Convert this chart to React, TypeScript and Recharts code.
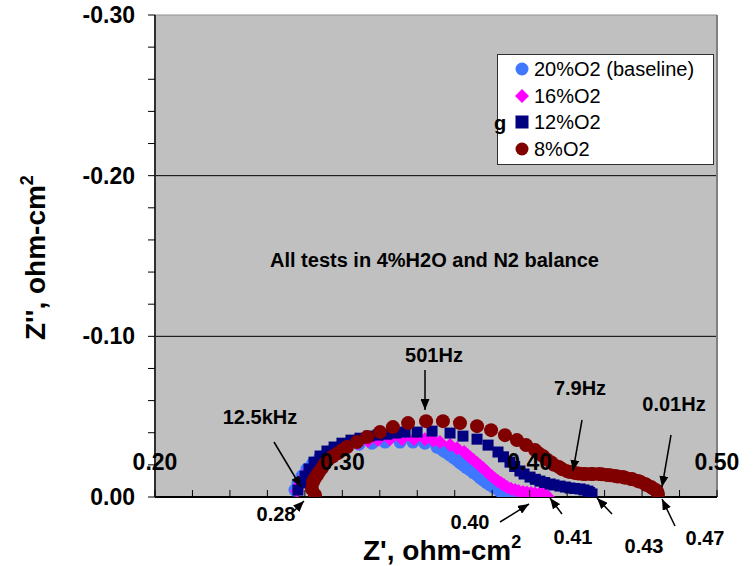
import React from 'react';
import { ScatterChart, Scatter, XAxis, YAxis, CartesianGrid, ReferenceLine } from 'recharts';

// Z' (ohm-cm2), Z'' (ohm-cm2, negative = capacitive)
const o2_20: number[][] = [
  [0.2747, -0.0043], [0.2763, -0.0087], [0.2785, -0.013], [0.2811, -0.0174], [0.2843, -0.0211],
  [0.2881, -0.0248], [0.2923, -0.028], [0.2972, -0.0304], [0.3025, -0.0317], [0.3089, -0.0329],
  [0.3158, -0.0335], [0.3228, -0.0342], [0.3308, -0.0342], [0.3377, -0.0342], [0.3441, -0.0335],
  [0.3505, -0.0311], [0.3527, -0.0299], [0.3543, -0.0286], [0.3559, -0.0274], [0.3575, -0.0261],
  [0.3594, -0.0245], [0.3612, -0.023], [0.3628, -0.0214], [0.3644, -0.0199], [0.3663, -0.0183],
  [0.3682, -0.0168], [0.37, -0.0152], [0.3719, -0.0137], [0.3735, -0.0121], [0.3751, -0.0106],
  [0.377, -0.009], [0.3788, -0.0075], [0.3807, -0.0062], [0.3826, -0.005], [0.3842, -0.0037],
  [0.3858, -0.0025], [0.388, -0.0015], [0.39, -0.0006], [0.3925, -0.0003], [0.3948, 0],
  [0.3967, 0], [0.3986, 0],
];

const o2_16: number[][] = [
  [0.2758, -0.0037], [0.2774, -0.0081], [0.2795, -0.0124], [0.2822, -0.0168], [0.2854, -0.0205],
  [0.2891, -0.0242], [0.2934, -0.0273], [0.2982, -0.0298], [0.303, -0.0317], [0.3084, -0.0335],
  [0.3137, -0.0348], [0.319, -0.0354], [0.3254, -0.036], [0.3319, -0.036], [0.3383, -0.036],
  [0.3441, -0.036], [0.3485, -0.0352], [0.3521, -0.0342], [0.3575, -0.0323], [0.3612, -0.0304],
  [0.365, -0.028], [0.3665, -0.0265], [0.3682, -0.0248], [0.37, -0.023], [0.3719, -0.0211],
  [0.3735, -0.0195], [0.3751, -0.018], [0.3767, -0.0162], [0.3783, -0.0143], [0.38, -0.0127],
  [0.3815, -0.0112], [0.383, -0.0099], [0.3847, -0.0087], [0.3863, -0.0074], [0.3879, -0.0062],
  [0.39, -0.0052], [0.3922, -0.0043], [0.394, -0.0037], [0.3964, -0.0031], [0.3985, -0.0028],
  [0.4007, -0.0025], [0.4028, -0.0022], [0.405, -0.0019], [0.4066, -0.0019], [0.4082, -0.0019],
  [0.4098, 0],
];

const o2_12: number[][] = [
  [0.2763, -0.0043], [0.2785, -0.0087], [0.2801, -0.013], [0.2822, -0.0174], [0.2849, -0.0217],
  [0.2881, -0.0255], [0.2918, -0.0286], [0.2956, -0.0311], [0.2998, -0.0335], [0.3046, -0.0354],
  [0.3094, -0.0366], [0.3142, -0.0379], [0.319, -0.0385], [0.3238, -0.0391], [0.3287, -0.0398],
  [0.3335, -0.0404], [0.3399, -0.0404], [0.3479, -0.041], [0.3575, -0.0398], [0.3644, -0.0379],
  [0.3719, -0.036], [0.3778, -0.0323], [0.3831, -0.028], [0.386, -0.025], [0.3895, -0.0217],
  [0.392, -0.019], [0.3948, -0.0162], [0.397, -0.0143], [0.4002, -0.0124], [0.403, -0.011],
  [0.4055, -0.0099], [0.408, -0.009], [0.4109, -0.0081], [0.413, -0.0075], [0.4162, -0.0068],
  [0.419, -0.0062], [0.4215, -0.0056], [0.424, -0.0053], [0.4269, -0.005], [0.429, -0.0044],
  [0.4311, -0.0037], [0.432, -0.0028], [0.4333, -0.0019],
];

const o2_8: number[][] = [
  [0.2854, -0.0012], [0.2838, -0.005], [0.2843, -0.0093], [0.2853, -0.0115], [0.2865, -0.0137],
  [0.2877, -0.0158], [0.2891, -0.018], [0.2905, -0.0205], [0.2923, -0.023], [0.2948, -0.0252],
  [0.2977, -0.0273], [0.3, -0.0292], [0.3025, -0.0311], [0.3078, -0.0342], [0.3132, -0.0373],
  [0.3201, -0.0404], [0.327, -0.0435], [0.3351, -0.046], [0.3447, -0.0472], [0.3537, -0.0472],
  [0.3628, -0.046], [0.3719, -0.0441], [0.3794, -0.0416], [0.3868, -0.0385], [0.3932, -0.0354],
  [0.3981, -0.0323], [0.4029, -0.0292], [0.405, -0.027], [0.4071, -0.0255], [0.409, -0.0235],
  [0.4114, -0.0217], [0.413, -0.02], [0.4157, -0.0186], [0.4175, -0.0172], [0.4199, -0.0161],
  [0.4215, -0.0155], [0.4242, -0.0149], [0.426, -0.0146], [0.4285, -0.0143], [0.43, -0.0143],
  [0.4327, -0.0143], [0.434, -0.0143], [0.437, -0.0143], [0.4385, -0.0142], [0.4413, -0.0137],
  [0.443, -0.0135], [0.4456, -0.013], [0.447, -0.0128], [0.4498, -0.0124], [0.451, -0.012],
  [0.4541, -0.0112], [0.455, -0.011], [0.4578, -0.0099], [0.459, -0.0095], [0.4616, -0.0081],
  [0.4625, -0.0075], [0.4648, -0.0062], [0.4655, -0.0055], [0.4674, -0.0043], [0.468, -0.0035],
  [0.4685, -0.0019],
];

const seriesNames = ['20%O2 (baseline)', '16%O2', '12%O2', '8%O2'];
const seriesColors = ['#3F78FF', '#FF00FF', '#000080', '#800000'];

const xTicks = [0.2, 0.22, 0.24, 0.26, 0.28, 0.3, 0.32, 0.34, 0.36, 0.38, 0.4, 0.42, 0.44, 0.46, 0.48, 0.5];
const yTicks = [-0.3, -0.28, -0.26, -0.24, -0.22, -0.2, -0.18, -0.16, -0.14, -0.12, -0.1, -0.08, -0.06, -0.04, -0.02, 0];

const FONT = '"Liberation Sans", Arial, sans-serif';

const toPts = (arr: number[][]) => arr.map(([x, y]) => ({ x, y }));
const isMajor = (v: number) => Math.abs(v * 10 - Math.round(v * 10)) < 1e-6;

const circle = (fill: string, r: number) => (p: any) => <circle cx={p.cx} cy={p.cy} r={r} fill={fill} />;
const diamond = (fill: string, h: number) => (p: any) => (
  <path d={`M${p.cx},${p.cy - h}L${p.cx + h},${p.cy}L${p.cx},${p.cy + h}L${p.cx - h},${p.cy}Z`} fill={fill} />
);
const square = (fill: string, s: number) => (p: any) => (
  <rect x={p.cx - s / 2} y={p.cy - s / 2} width={s} height={s} fill={fill} />
);

const XTick = (props: any) => {
  const { x, y, payload } = props;
  const v = payload.value;
  return (
    <g>
      <line x1={x} y1={y - 7} x2={x} y2={y} stroke="#000" strokeWidth={1} />
      {isMajor(v) && (
        <text x={x} y={y - 27} textAnchor="middle" fontFamily={FONT} fontWeight="bold" fontSize={23} fill="#000">
          {v.toFixed(2)}
        </text>
      )}
    </g>
  );
};

const YTick = (props: any) => {
  const { x, y, payload } = props;
  const v = payload.value;
  return (
    <g>
      <line x1={x - 7} y1={y} x2={x} y2={y} stroke="#000" strokeWidth={1} />
      {isMajor(v) && (
        <text x={x - 20} y={y + 8} textAnchor="end" fontFamily={FONT} fontWeight="bold" fontSize={23} fill="#000">
          {Math.abs(v) < 1e-9 ? '0.00' : v.toFixed(2)}
        </text>
      )}
    </g>
  );
};

// annotation labels and arrows
const notes = [
  { t: '12.5kHz', x: 260, y: 424, a: [274, 442, 301, 487] },
  { t: '0.28', x: 276, y: 521, a: [291, 514, 304, 501] },
  { t: '501Hz', x: 434, y: 362, a: [425, 370, 425, 410] },
  { t: '0.40', x: 470, y: 529, a: [500, 522, 529, 504] },
  { t: '7.9Hz', x: 580, y: 395, a: [582, 420, 573, 471] },
  { t: '0.41', x: 573, y: 544, a: [562, 514, 550, 498] },
  { t: '0.43', x: 644, y: 553, a: [612, 514, 597, 498] },
  { t: '0.01Hz', x: 674, y: 411, a: [671, 435, 662, 487] },
  { t: '0.47', x: 705, y: 545, a: [675, 526, 662, 499] },
];

export default function App() {
  const legendY = [69, 96, 122, 149];
  return (
    <div style={{ position: 'absolute', left: 0, top: 0, width: 753, height: 566, background: '#fff' }}>
      <ScatterChart width={753} height={566} margin={{ top: 15, right: 36, left: 0, bottom: 0 }}>
        <CartesianGrid fill="#C0C0C0" horizontal={false} vertical={false} />
        <XAxis
          type="number"
          dataKey="x"
          domain={[0.2, 0.5]}
          ticks={xTicks}
          interval={0}
          height={69}
          tickSize={0}
          tickMargin={0}
          tick={<XTick />}
          axisLine={{ stroke: '#000', strokeWidth: 2 }}
          allowDataOverflow
        />
        <YAxis
          type="number"
          dataKey="y"
          domain={[-0.3, 0]}
          reversed
          ticks={yTicks}
          interval={0}
          width={155}
          tickSize={0}
          tickMargin={0}
          tick={<YTick />}
          axisLine={{ stroke: '#303030', strokeWidth: 2 }}
          allowDataOverflow
        />
        <ReferenceLine y={-0.2} stroke="#000" strokeWidth={1} />
        <ReferenceLine y={-0.1} stroke="#000" strokeWidth={1} />
        <ReferenceLine y={-0.3} stroke="#909090" strokeWidth={1} />
        <ReferenceLine x={0.5} stroke="#808080" strokeWidth={2} />
        <Scatter name={seriesNames[0]} data={toPts(o2_20)} shape={circle(seriesColors[0], 6.5)} isAnimationActive={false} />
        <Scatter name={seriesNames[1]} data={toPts(o2_16)} shape={diamond(seriesColors[1], 7)} isAnimationActive={false} />
        <Scatter name={seriesNames[2]} data={toPts(o2_12)} shape={square(seriesColors[2], 11)} isAnimationActive={false} />
        <Scatter name={seriesNames[3]} data={toPts(o2_8)} shape={circle(seriesColors[3], 7)} isAnimationActive={false} />
      </ScatterChart>
      <svg width={753} height={566} style={{ position: 'absolute', left: 0, top: 0, pointerEvents: 'none' }}>
        <defs>
          <marker id="ah" markerWidth={11} markerHeight={9} refX={11} refY={4.5} orient="auto" markerUnits="userSpaceOnUse">
            <path d="M0,0L11,4.5L0,9Z" fill="#000" />
          </marker>
        </defs>
        <text x={270} y={267} fontFamily={FONT} fontWeight="bold" fontSize={20} fill="#000">
          All tests in 4%H2O and N2 balance
        </text>
        {notes.map((n) => (
          <g key={n.t + n.x}>
            <text x={n.x} y={n.y} textAnchor="middle" fontFamily={FONT} fontWeight="bold" fontSize={20} fill="#000">
              {n.t}
            </text>
            <line x1={n.a[0]} y1={n.a[1]} x2={n.a[2]} y2={n.a[3]} stroke="#000" strokeWidth={1.5} markerEnd="url(#ah)" />
          </g>
        ))}
        <rect x={497.5} y={54.5} width={216} height={110} fill="#fff" stroke="#303030" strokeWidth={1} />
        <text x={494} y={130} fontFamily={FONT} fontWeight="bold" fontSize={20} fill="#000">g</text>
        {seriesNames.map((s, i) => {
          const cy = legendY[i];
          const c = seriesColors[i];
          return (
            <g key={s}>
              {i === 0 || i === 3 ? (
                <circle cx={522} cy={cy} r={6.5} fill={c} />
              ) : i === 1 ? (
                <path d={`M522,${cy - 7}L529,${cy}L522,${cy + 7}L515,${cy}Z`} fill={c} />
              ) : (
                <rect x={515.5} y={cy - 6.5} width={13} height={13} fill={c} />
              )}
              <text x={534} y={cy + 7} fontFamily={FONT} fontSize={20} fill="#000">{s}</text>
            </g>
          );
        })}
        <text x={363} y={560} fontFamily={FONT} fontWeight="bold" fontSize={28} fill="#000">
          Z', ohm-cm<tspan dy={-12} fontSize={18}>2</tspan>
        </text>
        <text transform="translate(45,340) rotate(-90)" fontFamily={FONT} fontWeight="bold" fontSize={28} fill="#000">
          Z'', ohm-cm<tspan dy={-12} fontSize={18}>2</tspan>
        </text>
      </svg>
    </div>
  );
}
